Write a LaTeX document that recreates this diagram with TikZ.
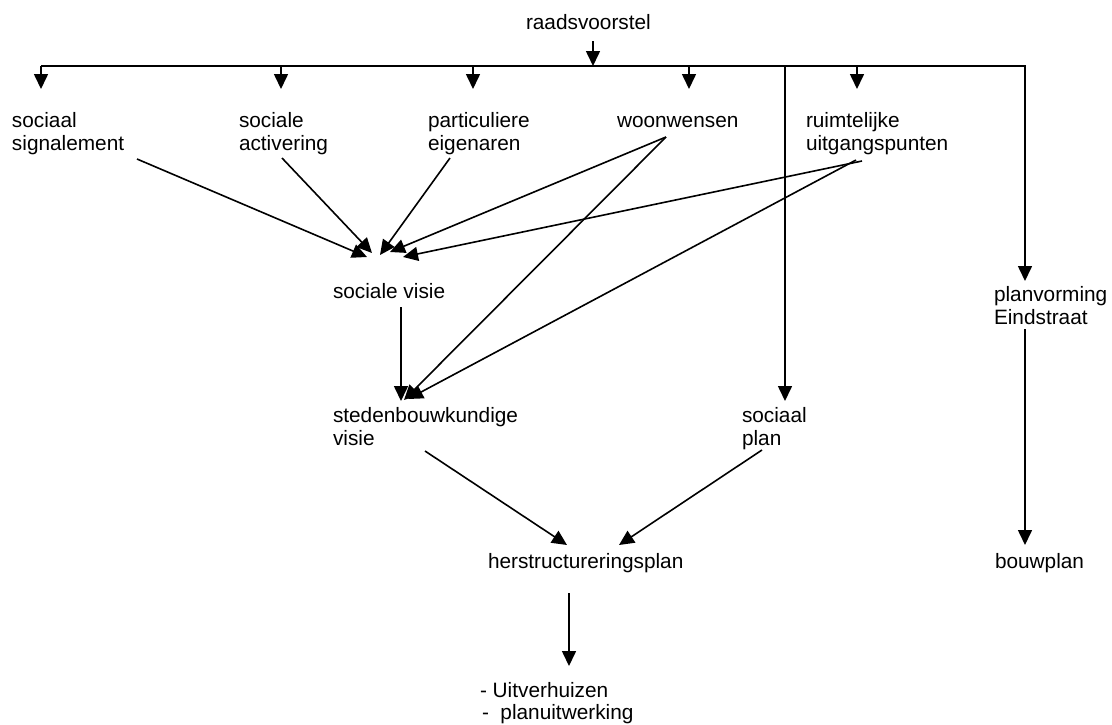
\documentclass[tikz,border=0pt]{standalone}
\usepackage{fontspec}
\setmainfont{Liberation Sans}
\usetikzlibrary{arrows.meta,calc}
\tikzset{
  lbl/.style={anchor=base west, inner sep=0pt, outer sep=0pt, align=left,
              font=\fontsize{20.8}{23.5}\selectfont},
  conn/.style={line width=1.6pt, -{Triangle[width=14pt,length=15pt]}},
  plain/.style={line width=1.6pt}
}
\begin{document}
\begin{tikzpicture}[x=1pt,y=-1pt]
\useasboundingbox (0,0) rectangle (1112,724);
% labels (base west of a multi-line node = baseline of its last line)
\node[lbl] (raad)  at (526,29)    {raadsvoorstel};
\node[lbl] (sig)   at (12,150.5)  {sociaal\\signalement};
\node[lbl] (act)   at (239,150.5) {sociale\\activering};
\node[lbl] (part)  at (428,150.5) {particuliere\\eigenaren};
\node[lbl] (woon)  at (617,127)   {woonwensen};
\node[lbl] (ruim)  at (806,150.5) {ruimtelijke\\uitgangspunten};
\node[lbl] (sv)    at (333,298)   {sociale visie};
\node[lbl] (planv) at (994,324.5) {planvorming\\Eindstraat};
\node[lbl] (stv)   at (333,445.5) {stedenbouwkundige\\visie};
\node[lbl] (sp)    at (742,445.5) {sociaal\\plan};
\node[lbl] (her)   at (488,568)   {herstructureringsplan};
\node[lbl] (bouw)  at (995,568)   {bouwplan};
\node[lbl,font=\fontsize{20.8}{22}\selectfont] (list) at (480,719) {-~Uitverhuizen\\\hspace*{2pt}-~~planuitwerking};
% hub
\coordinate (hubL) at ($(sig.base west)+(29,-84.5)$);
\coordinate (hubR) at ($(planv.base west)+(31,-258.5)$);
\draw[conn] ($(raad.base west)+(67,12)$) -- ($(raad.base west)+(67,37)$);
\draw[conn] (hubL) -- (hubR) -- ($(planv.base west)+(31,-43.5)$);
\draw[conn] (hubL) -- ($(sig.base west)+(29,-61.5)$);
\draw[conn] ($(act.base west)+(42,-84.5)$) -- ($(act.base west)+(42,-61.5)$);
\draw[conn] ($(part.base west)+(45,-84.5)$) -- ($(part.base west)+(45,-61.5)$);
\draw[conn] ($(woon.base west)+(72,-61)$) -- ($(woon.base west)+(72,-38)$);
\draw[conn] ($(ruim.base west)+(51,-84.5)$) -- ($(ruim.base west)+(51,-61.5)$);
\draw[conn] ($(sp.base west)+(43,-379.5)$) -- ($(sp.base west)+(43,-44.5)$);
% into sociale visie
\draw[conn] ($(sig.base west)+(125,8.5)$) -- ($(sv.base west)+(34,-41)$);
\draw[conn] ($(act.base west)+(43,7.5)$) -- ($(sv.base west)+(39,-45)$);
\draw[conn] ($(part.base west)+(22,7.5)$) -- ($(sv.base west)+(47,-43)$);
\draw[conn] ($(woon.base west)+(49,10)$) -- ($(sv.base west)+(57,-46)$);
\draw[conn] ($(ruim.base west)+(56,10.5)$) -- ($(sv.base west)+(70,-41)$);
% into stedenbouwkundige visie
\draw[conn] ($(sv.base west)+(68,9)$) -- ($(stv.base west)+(68,-44.5)$);
\draw[conn] ($(woon.base west)+(49,10)$) -- ($(stv.base west)+(71,-45.5)$);
\draw[conn] ($(ruim.base west)+(50,9.5)$) -- ($(stv.base west)+(75,-46.5)$);
% into herstructureringsplan
\draw[conn] ($(stv.base west)+(92,5.5)$) -- ($(her.base west)+(79,-23)$);
\draw[conn] ($(sp.base west)+(20,4.5)$) -- ($(her.base west)+(131,-23)$);
\draw[conn] ($(her.base west)+(81,25)$) -- ($(list.base west)+(89,-53)$);
% bouwplan
\draw[conn] ($(planv.base west)+(31,4.5)$) -- ($(bouw.base west)+(30,-23)$);
\end{tikzpicture}
\end{document}
